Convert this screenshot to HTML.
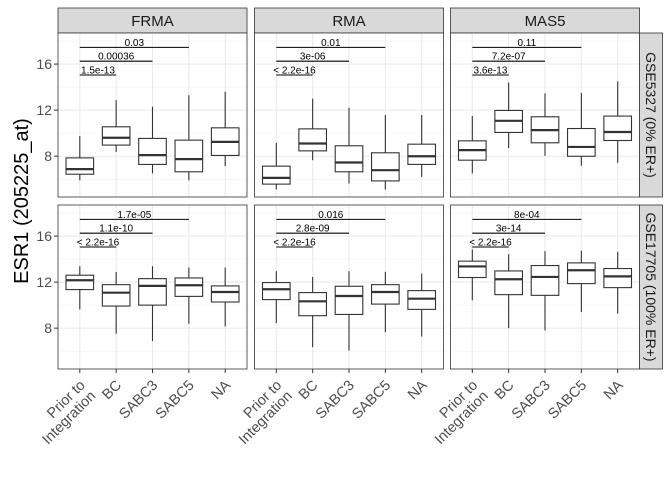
<!DOCTYPE html>
<html><head><meta charset="utf-8"><style>
html,body{margin:0;padding:0;background:#fff}
svg{display:block;font-family:"Liberation Sans",Arial,sans-serif}
</style></head><body>
<svg id="chart" width="672" height="480" viewBox="0 0 672 480" xmlns="http://www.w3.org/2000/svg"></svg>
<script>
const categories = ["Prior to\nIntegration","BC","SABC3","SABC5","NA"];
const methods = ["FRMA","RMA","MAS5"];
const datasets = ["GSE5327 (0% ER+)","GSE17705 (100% ER+)"];
const yTicks = [8,12,16];
const yMinor = [6,10,14,18];
// each box: [lowWhisker, Q1, median, Q3, highWhisker]
const boxesGSE5327_FRMA = [[5.9,6.43,6.87,7.85,9.74],[8.37,8.96,9.6,10.55,12.87],[6.5,7.28,8.09,9.54,12.3],[5.9,6.64,7.74,9.39,13.3],[7.13,8.06,9.24,10.46,13.6]];
const boxesGSE5327_RMA = [[5.1,5.57,6.11,7.13,9.16],[7.65,8.46,9.1,10.37,13.0],[5.63,6.64,7.45,8.9,12.2],[5.1,5.85,6.78,8.29,11.57],[6.2,7.28,7.99,9.04,11.57]];
const boxesGSE5327_MAS5 = [[6.5,7.65,8.52,9.33,11.48],[8.7,10.06,11.07,11.97,14.4],[8.03,9.16,10.26,11.42,13.45],[7.16,7.99,8.8,10.4,13.5],[7.42,9.36,10.1,11.48,14.5]];
const boxesGSE17705_FRMA = [[9.63,11.35,12.16,12.6,13.38],[7.51,9.92,11.08,11.78,12.88],[6.87,10.0,11.67,12.3,13.38],[8.38,10.76,11.73,12.36,13.27],[8.15,10.27,11.14,11.67,13.27]];
const boxesGSE17705_RMA = [[8.43,10.48,11.38,11.96,12.95],[6.34,9.08,10.33,11.09,12.45],[6.05,9.19,10.79,11.64,12.95],[7.65,10.09,11.14,11.78,12.89],[7.27,9.63,10.56,11.26,12.74]];
const boxesGSE17705_MAS5 = [[10.42,12.4,13.36,13.82,14.84],[8.0,10.91,12.25,12.97,14.43],[7.8,10.85,12.45,13.44,14.69],[9.4,11.87,13.03,13.67,14.72],[9.26,11.52,12.5,13.18,14.63]];
const pvalsGSE5327 = [["1.5e-13","0.00036","0.03"],["< 2.2e-16","3e-06","0.01"],["3.6e-13","7.2e-07","0.11"]];
const pvalsGSE17705 = [["< 2.2e-16","1.1e-10","1.7e-05"],["< 2.2e-16","2.8e-09","0.016"],["< 2.2e-16","3e-14","8e-04"]];
const bracketY = [15.05,16.25,17.45];
const bracketEnd = [1,2,3]; // index of comparison group vs group 0

const boxes = [[boxesGSE5327_FRMA,boxesGSE5327_RMA,boxesGSE5327_MAS5],[boxesGSE17705_FRMA,boxesGSE17705_RMA,boxesGSE17705_MAS5]];
const pvals = [pvalsGSE5327,pvalsGSE17705];

const svg = document.getElementById('chart');
const NS = "http://www.w3.org/2000/svg";
function mk(tag, attrs, parent){const e=document.createElementNS(NS,tag);for(const k in attrs)e.setAttribute(k,attrs[k]);(parent||svg).appendChild(e);return e;}

const panelX = [58,254.5,450.5], panelW = 189;
const panelY = [33,205], panelH = 164;
const yLo = 4.45, yHi = 18.7;
function yScale(r,v){return panelY[r] + panelH*(yHi - v)/(yHi - yLo);}
function xScale(c,i){return panelX[c] + panelW*(i+1-0.4)/5.2;}

for(let c=0;c<3;c++){
  const s = mk('rect',{x:panelX[c],y:8,width:panelW,height:25,fill:'#d9d9d9',stroke:'#333',"stroke-width":0.8});
  
  
  const t = mk('text',{x:panelX[c]+panelW/2,y:26,"text-anchor":"middle","font-size":15,fill:'#1a1a1a'});
  t.textContent = methods[c];
  
  
}
for(let r=0;r<2;r++){
  const s = mk('rect',{x:639.5,y:panelY[r],width:23,height:panelH,fill:'#d9d9d9',stroke:'#333',"stroke-width":0.8});
  
  
  const cx=651, cy=panelY[r]+panelH/2;
  const t = mk('text',{x:cx,y:cy,"text-anchor":"middle","font-size":14,fill:'#1a1a1a',"dominant-baseline":"central",transform:`rotate(90 ${cx} ${cy})`});
  t.textContent = datasets[r];
  
  
}

for(let r=0;r<2;r++){
  for(let c=0;c<3;c++){
    const g = mk('g',{});
    
    
    mk('rect',{x:panelX[c],y:panelY[r],width:panelW,height:panelH,fill:'#fff'},g);
    yMinor.forEach(v=>{const y=yScale(r,v);if(y>panelY[r]&&y<panelY[r]+panelH)mk('line',{x1:panelX[c],x2:panelX[c]+panelW,y1:y,y2:y,stroke:'#f2f2f2',"stroke-width":0.6},g);});
    yTicks.forEach(v=>{const y=yScale(r,v);mk('line',{x1:panelX[c],x2:panelX[c]+panelW,y1:y,y2:y,stroke:'#ebebeb',"stroke-width":1.1},g);});
    categories.forEach((cat,i)=>{const x=xScale(c,i);mk('line',{x1:x,x2:x,y1:panelY[r],y2:panelY[r]+panelH,stroke:'#ebebeb',"stroke-width":1.1},g);});
    boxes[r][c].forEach((b,i)=>{
      const x=xScale(c,i), hw=13.8;
      const bg = mk('g',{},g);
      
      
      mk('line',{x1:x,x2:x,y1:yScale(r,b[3]),y2:yScale(r,b[4]),stroke:'#333',"stroke-width":1.1},bg);
      mk('line',{x1:x,x2:x,y1:yScale(r,b[0]),y2:yScale(r,b[1]),stroke:'#333',"stroke-width":1.1},bg);
      mk('rect',{x:x-hw,y:yScale(r,b[3]),width:2*hw,height:yScale(r,b[1])-yScale(r,b[3]),fill:'#fff',stroke:'#333',"stroke-width":1.1},bg);
      mk('line',{x1:x-hw,x2:x+hw,y1:yScale(r,b[2]),y2:yScale(r,b[2]),stroke:'#333',"stroke-width":2.2},bg);
    });
    bracketY.forEach((v,k)=>{
      const x1=xScale(c,0), x2=xScale(c,bracketEnd[k]), y=yScale(r,v);
      const bl = mk('line',{x1:x1,x2:x2,y1:y,y2:y,stroke:'#000',"stroke-width":1.1},g);
      
      
      const t = mk('text',{x:(x1+x2)/2,y:y-1.5,"text-anchor":"middle","font-size":10,fill:'#000'},g);
      t.textContent = pvals[r][c][k];
      
      
    });
    mk('rect',{x:panelX[c],y:panelY[r],width:panelW,height:panelH,fill:'none',stroke:'#333',"stroke-width":0.8},g);
  }
  yTicks.forEach(v=>{
    const y=yScale(r,v);
    mk('line',{x1:54,x2:58,y1:y,y2:y,stroke:'#333',"stroke-width":1});
    const t = mk('text',{x:52,y:y+5,"text-anchor":"end","font-size":14,fill:'#4d4d4d'});
    t.textContent = v;
    
    
  });
}
for(let c=0;c<3;c++){
  categories.forEach((cat,i)=>{
    const x=xScale(c,i), yb=panelY[1]+panelH;
    mk('line',{x1:x,x2:x,y1:yb,y2:yb+4,stroke:'#333',"stroke-width":1});
    const t = mk('text',{transform:`translate(${x+6},${yb+17}) rotate(-45)`,"text-anchor":"end","font-size":14.5,fill:'#4d4d4d'});
    
    
    const lines = cat.split('\n');
    lines.forEach((ln,j)=>{
      const ts = mk('tspan',{x:0,y:j*15},t);
      ts.textContent = ln;
    });
  });
}
const yt = mk('text',{x:0,y:0,transform:'translate(28,201) rotate(-90)',"text-anchor":"middle","font-size":20,fill:'#000'});
yt.textContent = 'ESR1 (205225_at)';


</script>
</body></html>
